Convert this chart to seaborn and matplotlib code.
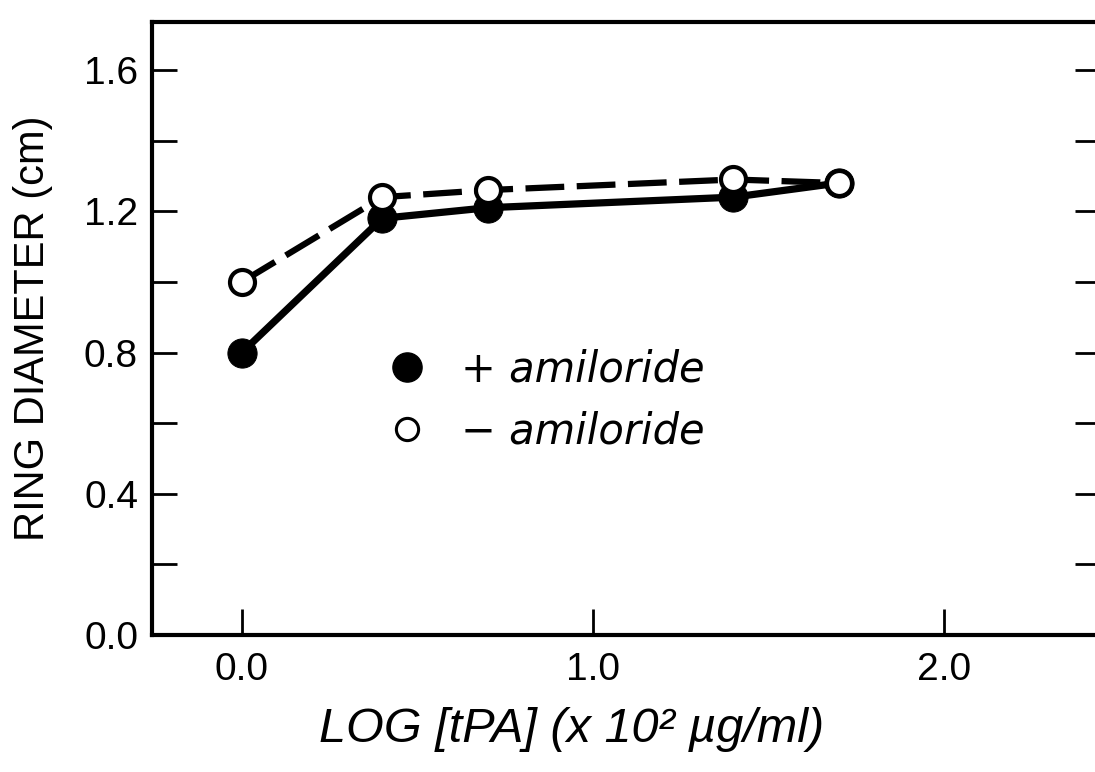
import matplotlib
matplotlib.use("Agg")
import matplotlib.pyplot as plt
from matplotlib.lines import Line2D
from matplotlib.font_manager import FontProperties
import seaborn as sns

# log[tPA] and ring diameters
log_tpa = [0.0, 0.4, 0.7, 1.4, 1.7]
ring_plus = [0.80, 1.18, 1.21, 1.24, 1.28]   # + amiloride (filled)
ring_minus = [1.00, 1.24, 1.26, 1.29, 1.28]  # - amiloride (open)

x_ticks = [0.0, 1.0, 2.0]
x_ticklabels = ["0.0", "1.0", "2.0"]
y_ticks = [0.0, 0.4, 0.8, 1.2, 1.6]
y_ticklabels = ["0.0", "0.4", "0.8", "1.2", "1.6"]
y_minor = [0.2, 0.6, 1.0, 1.4]
legend_labels = ["+ amiloride", "\u2212 amiloride"]

sns.set_style("ticks")
plt.rcParams["font.family"] = ["Liberation Sans", "DejaVu Sans"]
plt.rcParams["text.color"] = "black"
plt.rcParams["axes.labelcolor"] = "black"
plt.rcParams["xtick.color"] = "black"
plt.rcParams["ytick.color"] = "black"

fig = plt.figure(figsize=(10.95, 7.72), dpi=100)
ax = fig.add_axes([152 / 1095, 137 / 772, 948 / 1095, 613 / 772])

sns.lineplot(x=log_tpa, y=ring_plus, ax=ax, color="black", linewidth=5.2,
             marker="o", markersize=21, markerfacecolor="black",
             markeredgecolor="black", legend=False)
sns.lineplot(x=log_tpa, y=ring_minus, ax=ax, color="black", linewidth=4.5,
             marker="o", markersize=18, markerfacecolor="white",
             markeredgecolor="black", markeredgewidth=3, legend=False)
# long dashes, short gaps as in the original
ax.lines[-1].set_dashes([6.2, 2.0])

ax.set_xlim(-0.256, 2.444)
ax.set_ylim(0, 1.736)

ax.set_xticks(x_ticks)
ax.set_xticklabels(x_ticklabels)
ax.set_yticks(y_ticks)
ax.set_yticklabels(y_ticklabels)
ax.set_yticks(y_minor, minor=True)
ax.tick_params(axis="x", direction="in", length=19, width=2, pad=12,
               labelsize=28, top=False)
ax.tick_params(axis="y", which="both", direction="in", length=18, width=2,
               pad=10, labelsize=28, left=True, right=True)

for s in ax.spines.values():
    s.set_linewidth(3)
    s.set_color("black")

ax.set_ylabel("RING DIAMETER (cm)", fontsize=30)
ax.yaxis.set_label_coords(-0.104, 0.5)
ax.set_xlabel("LOG [tPA] (x 10\u00b2 \u00b5g/ml)", fontsize=35, style="italic")
ax.xaxis.set_label_coords(0.443, -0.118)
ax.xaxis.label.set_va("top")

handles = [
    Line2D([], [], ls="", marker="o", markersize=21, markerfacecolor="black",
           markeredgecolor="black"),
    Line2D([], [], ls="", marker="o", markersize=16, markerfacecolor="white",
           markeredgecolor="black", markeredgewidth=2.2),
]
ax.legend(handles, legend_labels, loc="upper left",
          bbox_to_anchor=(0.247, 0.468), frameon=False, borderpad=0,
          borderaxespad=0, handlelength=1.0, handletextpad=0.8,
          labelspacing=0.5,
          prop=FontProperties(family="DejaVu Sans", style="oblique", size=30))

fig.savefig("out.png", dpi=100)
